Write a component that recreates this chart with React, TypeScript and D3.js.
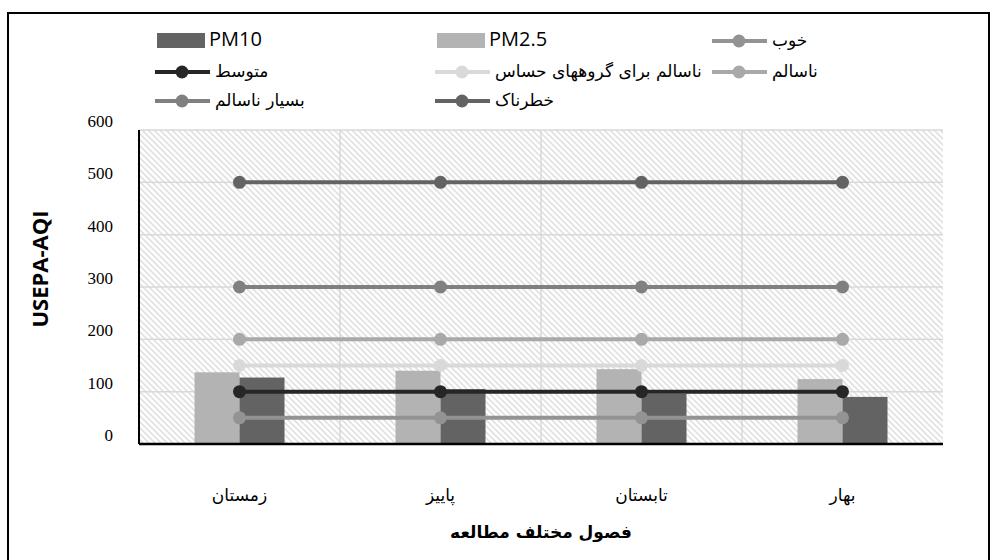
import React, { useEffect, useRef } from 'react';
import * as d3 from 'd3';

// seasons, left to right as in the chart
const seasons = ['زمستان', 'پاییز', 'تابستان', 'بهار'];
const pm25 = [137, 140, 143, 124];
const pm10 = [127, 105, 96, 90];

// USEPA-AQI breakpoints
const levelNames = ['خوب', 'متوسط', 'ناسالم برای گروههای حساس', 'ناسالم', 'بسیار ناسالم', 'خطرناک'];
const levelValues = [50, 100, 150, 200, 300, 500];
const yTicks = [0, 100, 200, 300, 400, 500, 600];

const levelColors = ['#939393', '#262626', '#d9d9d9', '#a9a9a9', '#808080', '#636363'];
const barColors = { 'PM2.5': '#b3b3b3', PM10: '#636363' };

const App = () => {
  const svgRef = useRef(null);

  useEffect(() => {
    const svg = d3.select(svgRef.current);
    svg.selectAll('*').remove();

    const width = 990;
    const height = 560;
    const margin = { top: 130, right: 47, bottom: 116, left: 139 };
    const left = margin.left;
    const right = width - margin.right;
    const top = margin.top;
    const bottom = height - margin.bottom;

    const x0 = d3.scaleBand().domain(seasons).range([left, right]).padding(0);
    const x1 = d3.scaleBand().domain(['PM2.5', 'PM10']).range([-45, 45]);
    const y = d3.scaleLinear().domain([0, 600]).range([bottom, top]);
    const cx = (s) => x0(s) + x0.bandwidth() / 2;

    // outer frame
    svg.append('rect')
      .attr('x', 8).attr('y', 13).attr('width', 981).attr('height', 560)
      .attr('fill', 'none').attr('stroke', '#000').attr('stroke-width', 2);

    const defs = svg.append('defs');
    const pat = defs.append('pattern')
      .attr('id', 'hatch').attr('patternUnits', 'userSpaceOnUse')
      .attr('width', 6).attr('height', 6);
    pat.append('rect').attr('width', 6).attr('height', 6).attr('fill', '#fff');
    pat.append('path')
      .attr('d', 'M0,0L6,6M-1,5L1,7M5,-1L7,1')
      .attr('stroke', '#e2e2e2').attr('stroke-width', 1.8);

    svg.append('rect')
      .attr('x', left).attr('y', top)
      .attr('width', right - left).attr('height', bottom - top)
      .attr('fill', 'url(#hatch)');

    // grid
    const grid = svg.append('g').attr('stroke', '#d9d9d9').attr('stroke-width', 1.5);
    grid.selectAll('line.h').data(yTicks.slice(1)).join('line')
      .attr('class', 'h')
      .attr('x1', left).attr('x2', right)
      .attr('y1', d => y(d)).attr('y2', d => y(d));
    grid.selectAll('line.v').data(seasons.slice(1)).join('line')
      .attr('class', 'v')
      .attr('x1', d => x0(d)).attr('x2', d => x0(d))
      .attr('y1', top).attr('y2', bottom);

    // bars
    const barData = [];
    seasons.forEach((s, i) => {
      barData.push({ s, key: 'PM2.5', v: pm25[i] });
      barData.push({ s, key: 'PM10', v: pm10[i] });
    });
    svg.append('g').selectAll('rect').data(barData).join('rect')
      .attr('x', d => cx(d.s) + x1(d.key))
      .attr('width', x1.bandwidth())
      .attr('y', d => y(d.v))
      .attr('height', d => y(0) - y(d.v))
      .attr('fill', d => barColors[d.key]);

    // AQI level lines
    const line = d3.line().x(d => cx(d)).y(0);
    const lv = svg.append('g');
    levelValues.forEach((v, i) => {
      const g = lv.append('g').attr('transform', `translate(0,${y(v)})`);
      g.append('path')
        .attr('d', line(seasons))
        .attr('fill', 'none')
        .attr('stroke', levelColors[i])
        .attr('stroke-width', 4);
      g.selectAll('circle').data(seasons).join('circle')
        .attr('cx', d => cx(d)).attr('cy', 0).attr('r', 6.5)
        .attr('fill', levelColors[i]);
    });

    // axes
    svg.append('line')
      .attr('x1', left).attr('x2', left).attr('y1', top).attr('y2', bottom)
      .attr('stroke', '#000').attr('stroke-width', 2);
    svg.append('line')
      .attr('x1', left).attr('x2', right).attr('y1', bottom).attr('y2', bottom)
      .attr('stroke', '#000').attr('stroke-width', 2.5);

    svg.append('g').selectAll('text').data(yTicks).join('text')
      .attr('x', 113).attr('y', d => y(d) - 7)
      .attr('text-anchor', 'end')
      .attr('dominant-baseline', 'middle')
      .attr('font-family', '"Liberation Serif", serif')
      .attr('font-size', 17)
      .attr('fill', '#000')
      .text(d => d);

    svg.append('g').selectAll('text').data(seasons).join('text')
      .attr('x', d => cx(d)).attr('y', 496)
      .attr('text-anchor', 'middle')
      .attr('dominant-baseline', 'middle')
      .attr('font-family', '"DejaVu Sans", sans-serif')
      .attr('font-size', 17)
      .attr('fill', '#000')
      .text(d => d);

    svg.append('text')
      .attr('x', (left + right) / 2).attr('y', 533)
      .attr('text-anchor', 'middle')
      .attr('dominant-baseline', 'middle')
      .attr('font-family', '"DejaVu Sans", sans-serif')
      .attr('font-weight', 'bold')
      .attr('font-size', 17)
      .attr('fill', '#000')
      .text('فصول مختلف مطالعه');

    svg.append('text')
      .attr('transform', `translate(42,${(top + bottom) / 2 - 18}) rotate(-90)`)
      .attr('text-anchor', 'middle')
      .attr('dominant-baseline', 'middle')
      .attr('font-family', '"Open Sans", sans-serif')
      .attr('font-weight', 'bold')
      .attr('font-size', 22)
      .attr('fill', '#000')
      .text('USEPA-AQI');

    // legend
    const legendItems = [
      { name: 'PM10', type: 'bar', color: barColors.PM10 },
      { name: 'PM2.5', type: 'bar', color: barColors['PM2.5'] },
      ...levelNames.map((n, i) => ({ name: n, type: 'line', color: levelColors[i] })),
    ];
    const colX = [157, 437, 714];
    const rowY = [41, 72, 101];
    const leg = svg.append('g');
    legendItems.forEach((d, i) => {
      const g = leg.append('g')
        .attr('transform', `translate(${colX[i % 3]},${rowY[Math.floor(i / 3)]})`);
      if (d.type === 'bar') {
        g.append('rect').attr('x', 0).attr('y', -8).attr('width', 48).attr('height', 15).attr('fill', d.color);
      } else {
        g.append('line').attr('x1', -2).attr('x2', 53).attr('stroke', d.color).attr('stroke-width', 4);
        g.append('circle').attr('cx', 25).attr('r', 6.5).attr('fill', d.color);
      }
      g.append('text')
        .attr('x', d.type === 'bar' ? 52 : 58)
        .attr('y', 0)
        .attr('dominant-baseline', 'middle')
        .attr('font-family', d.type === 'bar' ? '"Open Sans", sans-serif' : '"DejaVu Sans", sans-serif')
        .attr('font-size', d.type === 'bar' ? 20 : 17)
        .attr('fill', '#000')
        .text(d.name);
    });
  }, []);

  return (
    <div style={{ position: 'absolute', left: 0, top: 0 }}>
      <svg ref={svgRef} width={990} height={560}></svg>
    </div>
  );
};

export default App;
